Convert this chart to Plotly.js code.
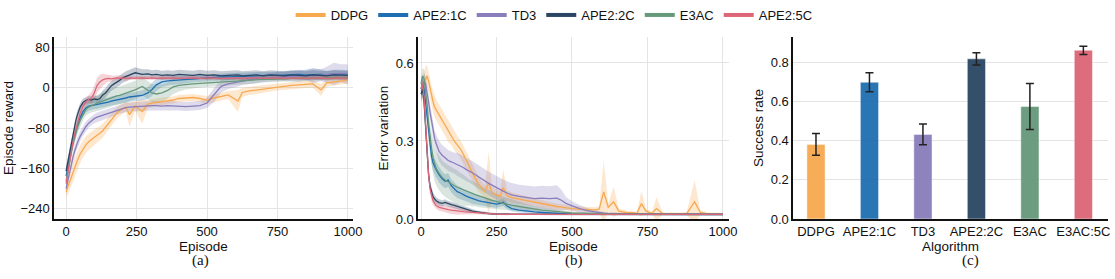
<!DOCTYPE html>
<html><head><meta charset="utf-8">
<script src="https://cdn.plot.ly/plotly-3.0.1.min.js"></script>
<style>html,body{margin:0;padding:0;background:#fff;}#chart{width:1115px;height:279px;}</style>
</head><body><div id="chart"></div>
<script>
// ---------- series / colours ----------
const SERIES = ['DDPG','APE2:1C','TD3','APE2:2C','E3AC','APE2:5C'];
const COLORS = ['#F7A950','#1F6EB1','#8A7DBB','#2A4663','#66987A','#DC6677'];
const FILLS  = ['rgba(247,169,80,0.28)','rgba(31,110,177,0.25)','rgba(138,125,187,0.28)','rgba(42,70,99,0.28)','rgba(102,152,122,0.25)','rgba(220,102,119,0.28)'];

// ---------- panel (a): episode reward ----------
const EP_A = [0,5,10,15,20,25,30,35,40,50, 60,70,80,90,100,110,120,130,140,150, 160,170,180,190,200,212,225,245,270,290, 305,320,340,360,380,400,425,450,475,500, 525,550,575,610,625,650,675,700,725,750, 775,800,825,850,875,905,925,950,975,1000];

const REW_DDPG = [-206,-198,-189,-181,-174,-166,-159,-151,-144,-131, -121,-113,-107,-102,-98,-94,-90,-85,-78,-71, -63,-56,-50,-45,-41,-38,-53,-36,-47,-32, -30,-29,-27,-25,-24,-21,-20,-19,-21,-24, -20,-17,-14,-26,-9,-6,-4,-2,0,2, 3,5,6,7,8,-4,10,12,13,15];
const REW_DDPG_SD = [14,16,18,20,20,20,20,19,18,18, 17,17,16,16,15,15,14,14,13,13, 12,12,11,11,10,10,24,9,24,8, 8,8,8,7,7,7,7,7,7,8, 8,8,8,22,9,8,8,8,7,7, 7,7,7,7,7,12,7,7,6,6];

const REW_APE1 = [-175,-160,-145,-130,-116,-104,-94,-85,-76,-59, -47,-40,-36,-35,-33,-33,-31,-30,-29,-28, -26,-25,-24,-23,-22,-20,-18,-17,-15,-10, -3,6,12,14,15,16,17,18,19,20, 21,22,22,23,23,24,24,25,25,25, 26,26,27,26,27,27,26,27,28,27];
const REW_APE1_SD = [12,12,12,12,12,12,12,11,11,11, 10,10,9,9,9,9,9,9,9,9, 9,9,9,9,9,9,9,9,10,12, 13,12,10,9,8,8,8,7,7,7, 7,7,7,7,7,7,7,7,7,7, 7,8,8,10,12,10,8,9,8,8];

const REW_TD3 = [-200,-186,-172,-159,-147,-136,-126,-117,-109,-96, -85,-77,-70,-65,-61,-58,-56,-54,-52,-50, -48,-46,-44,-42,-40,-39,-38,-37,-37,-36, -35,-35,-36,-35,-36,-36,-37,-36,-35,-30, -14,3,8,12,14,16,18,19,21,22, 23,23,24,25,24,25,26,28,29,27];
const REW_TD3_SD = [10,10,10,10,10,10,10,10,10,10, 10,10,9,9,9,9,9,9,9,9, 9,9,9,9,9,9,9,9,9,9, 9,9,9,9,9,9,9,9,9,10, 14,12,10,9,8,8,8,8,8,9, 9,10,12,10,14,12,16,22,18,20];

const REW_APE2 = [-165,-150,-135,-118,-102,-88,-76,-64,-54,-38, -29,-25,-23,-24,-22,-23,-21,-14,-10,-2, 4,8,11,15,20,23,26,30,27,28, 26,27,25,26,25,27,26,25,27,25, 26,24,25,26,24,25,26,24,26,25, 24,26,25,24,26,25,24,26,25,25];
const REW_APE2_SD = [10,10,10,10,10,10,9,9,9,8, 8,7,7,7,7,7,8,9,10,10, 10,10,10,10,10,10,10,11,10,9, 9,9,9,9,9,9,9,9,9,9, 9,9,9,9,9,9,9,9,9,9, 9,9,9,9,9,9,9,9,9,9];

const REW_E3AC = [-185,-168,-152,-137,-123,-110,-99,-89,-79,-64, -52,-43,-38,-35,-32,-30,-28,-26,-23,-21, -19,-17,-16,-15,-13,-12,-9,-4,3,-5, -10,-12,-10,-5,2,5,7,8,9,10, 11,11,12,13,14,15,16,17,17,18, 18,19,19,19,20,20,20,21,21,21];
const REW_E3AC_SD = [12,12,12,12,12,12,12,12,12,12, 12,12,13,14,15,16,17,18,18,18, 18,18,18,18,18,18,18,18,18,18, 18,18,17,16,14,12,10,9,8,8, 7,7,7,7,7,7,7,6,6,6, 6,6,6,6,6,6,6,6,6,6];

const REW_APE5 = [-190,-172,-155,-138,-120,-105,-92,-80,-68,-50, -36,-28,-23,-20,-10,5,12,16,18,19, 18,19,20,19,20,19,20,19,20,19, 20,19,20,19,20,19,20,20,19,20, 20,19,20,20,19,20,20,19,20,20, 19,20,20,19,20,20,19,20,20,19];
const REW_APE5_SD = [10,10,10,10,10,9,9,9,8,8, 8,8,9,12,15,15,14,12,9,7, 6,5,5,5,5,5,4,4,4,4, 4,4,4,4,4,4,4,4,4,4, 4,4,4,4,4,4,4,4,4,4, 4,4,4,4,4,4,4,4,4,4];

// ---------- panel (b): error variation ----------
const EP_B = [0,5,10,15,20,25,30,35,40,45, 50,60,70,80,90,100,110,120,130,140, 150,160,170,180,190,200,212,224,235,250, 262,272,285,300,325,350,375,400,425,450, 465,480,500,525,550,575,590,605,620,638, 655,680,700,715,730,745,765,780,800,830, 860,880,906,925,950,975,1000];

const ERR_DDPG = [0.49,0.50,0.52,0.54,0.55,0.53,0.50,0.47,0.45,0.43, 0.42,0.40,0.38,0.36,0.335,0.32,0.30,0.285,0.27,0.25, 0.225,0.20,0.18,0.155,0.135,0.12,0.105,0.14,0.10,0.092, 0.088,0.12,0.09,0.082,0.076,0.07,0.064,0.058,0.052,0.048, 0.046,0.043,0.04,0.038,0.037,0.035,0.038,0.104,0.045,0.066, 0.03,0.025,0.024,0.022,0.059,0.03,0.022,0.04,0.021,0.02, 0.02,0.021,0.066,0.025,0.02,0.02,0.02];
const ERR_DDPG_SD = [0.03,0.04,0.04,0.05,0.04,0.04,0.04,0.04,0.04,0.04, 0.04,0.04,0.04,0.04,0.04,0.035,0.035,0.035,0.035,0.035, 0.035,0.035,0.03,0.03,0.03,0.025,0.025,0.12,0.025,0.02, 0.02,0.07,0.02,0.02,0.018,0.016,0.015,0.014,0.013,0.012, 0.012,0.011,0.01,0.01,0.01,0.01,0.012,0.12,0.015,0.058, 0.01,0.008,0.007,0.006,0.048,0.01,0.006,0.045,0.005,0.005, 0.005,0.006,0.083,0.01,0.005,0.004,0.004];

const ERR_APE1 = [0.50,0.52,0.50,0.45,0.39,0.33,0.28,0.24,0.215,0.20, 0.19,0.17,0.155,0.145,0.15,0.128,0.115,0.105,0.10,0.093, 0.088,0.083,0.078,0.075,0.071,0.068,0.065,0.062,0.06,0.057, 0.06,0.064,0.05,0.04,0.034,0.03,0.027,0.025,0.023,0.022, 0.021,0.02,0.019,0.019,0.019,0.019,0.019,0.019,0.019,0.019, 0.019,0.019,0.018,0.018,0.018,0.018,0.018,0.018,0.018,0.018, 0.018,0.018,0.018,0.018,0.018,0.018,0.018];
const ERR_APE1_SD = [0.03,0.03,0.03,0.03,0.03,0.03,0.03,0.03,0.03,0.03, 0.03,0.03,0.028,0.027,0.027,0.025,0.025,0.024,0.023,0.022, 0.021,0.02,0.02,0.019,0.018,0.017,0.016,0.015,0.015,0.014, 0.014,0.014,0.012,0.01,0.009,0.008,0.007,0.006,0.006,0.005, 0.005,0.005,0.005,0.005,0.004,0.004,0.004,0.004,0.004,0.004, 0.004,0.004,0.004,0.004,0.004,0.004,0.004,0.004,0.004,0.004, 0.004,0.004,0.004,0.004,0.004,0.004,0.004];

const ERR_TD3 = [0.50,0.52,0.53,0.52,0.49,0.45,0.41,0.37,0.34,0.31, 0.29,0.26,0.245,0.235,0.225,0.22,0.215,0.21,0.205,0.198, 0.19,0.185,0.178,0.17,0.162,0.155,0.145,0.137,0.13,0.12, 0.112,0.107,0.10,0.093,0.087,0.082,0.078,0.08,0.078,0.08, 0.072,0.06,0.05,0.04,0.032,0.027,0.024,0.022,0.021,0.02, 0.02,0.019,0.019,0.019,0.019,0.019,0.019,0.019,0.019,0.019, 0.019,0.019,0.019,0.019,0.019,0.019,0.019];
const ERR_TD3_SD = [0.03,0.03,0.03,0.03,0.03,0.03,0.03,0.03,0.03,0.03, 0.035,0.04,0.04,0.04,0.04,0.04,0.04,0.045,0.045,0.045, 0.045,0.045,0.045,0.045,0.045,0.045,0.045,0.045,0.045,0.045, 0.045,0.045,0.045,0.045,0.045,0.047,0.047,0.048,0.048,0.05, 0.04,0.025,0.018,0.014,0.01,0.008,0.007,0.006,0.005,0.005, 0.004,0.004,0.004,0.004,0.004,0.004,0.004,0.004,0.004,0.004, 0.004,0.004,0.004,0.004,0.004,0.004,0.004];

const ERR_APE2 = [0.48,0.50,0.45,0.35,0.25,0.17,0.125,0.10,0.085,0.077, 0.07,0.063,0.06,0.064,0.058,0.055,0.052,0.048,0.044,0.04, 0.036,0.033,0.03,0.028,0.026,0.024,0.022,0.021,0.02,0.019, 0.018,0.018,0.018,0.018,0.018,0.018,0.018,0.018,0.018,0.018, 0.018,0.018,0.017,0.017,0.017,0.017,0.017,0.017,0.017,0.017, 0.017,0.017,0.017,0.017,0.017,0.017,0.017,0.017,0.017,0.017, 0.017,0.017,0.017,0.017,0.017,0.017,0.017];
const ERR_APE2_SD = [0.03,0.03,0.03,0.03,0.03,0.025,0.02,0.018,0.016,0.015, 0.014,0.013,0.012,0.012,0.011,0.011,0.01,0.01,0.009,0.009, 0.008,0.008,0.007,0.007,0.006,0.006,0.005,0.005,0.005,0.004, 0.004,0.004,0.004,0.004,0.004,0.004,0.004,0.004,0.004,0.004, 0.004,0.004,0.004,0.004,0.004,0.004,0.004,0.004,0.004,0.004, 0.004,0.004,0.004,0.004,0.004,0.004,0.004,0.004,0.004,0.004, 0.004,0.004,0.004,0.004,0.004,0.004,0.004];

const ERR_E3AC = [0.52,0.55,0.54,0.50,0.44,0.37,0.31,0.27,0.235,0.21, 0.195,0.175,0.16,0.15,0.142,0.135,0.128,0.122,0.117,0.111, 0.106,0.102,0.098,0.094,0.09,0.085,0.08,0.076,0.072,0.067, 0.063,0.06,0.057,0.053,0.048,0.043,0.038,0.034,0.031,0.028, 0.026,0.025,0.023,0.022,0.021,0.02,0.02,0.02,0.019,0.019, 0.019,0.019,0.019,0.019,0.019,0.019,0.019,0.019,0.019,0.019, 0.019,0.019,0.019,0.019,0.019,0.019,0.019];
const ERR_E3AC_SD = [0.03,0.03,0.035,0.04,0.045,0.05,0.055,0.06,0.065,0.065, 0.065,0.065,0.065,0.065,0.065,0.065,0.065,0.065,0.06,0.06, 0.055,0.05,0.05,0.045,0.045,0.04,0.038,0.035,0.032,0.03, 0.028,0.026,0.024,0.022,0.018,0.015,0.012,0.01,0.009,0.008, 0.007,0.006,0.006,0.005,0.005,0.005,0.004,0.004,0.004,0.004, 0.004,0.004,0.004,0.004,0.004,0.004,0.004,0.004,0.004,0.004, 0.004,0.004,0.004,0.004,0.004,0.004,0.004];

const ERR_APE5 = [0.50,0.52,0.47,0.36,0.25,0.17,0.115,0.085,0.07,0.06, 0.052,0.045,0.041,0.038,0.036,0.034,0.032,0.03,0.029,0.028, 0.027,0.026,0.025,0.024,0.023,0.022,0.021,0.02,0.019,0.019, 0.018,0.018,0.018,0.018,0.018,0.018,0.018,0.018,0.018,0.018, 0.018,0.018,0.018,0.018,0.018,0.018,0.018,0.018,0.018,0.018, 0.018,0.018,0.018,0.018,0.018,0.018,0.018,0.018,0.018,0.018, 0.018,0.018,0.018,0.018,0.018,0.018,0.018];
const ERR_APE5_SD = [0.03,0.03,0.03,0.03,0.03,0.025,0.02,0.018,0.016,0.014, 0.013,0.013,0.013,0.013,0.014,0.015,0.015,0.014,0.012,0.01, 0.008,0.007,0.006,0.006,0.005,0.005,0.005,0.004,0.004,0.004, 0.003,0.003,0.003,0.003,0.003,0.003,0.003,0.003,0.003,0.003, 0.003,0.003,0.003,0.003,0.003,0.003,0.003,0.003,0.003,0.003, 0.003,0.003,0.003,0.003,0.003,0.003,0.003,0.003,0.003,0.003, 0.003,0.003,0.003,0.003,0.003,0.003,0.003];

// ---------- panel (c): success rate ----------
const ALGORITHMS = ['DDPG','APE2:1C','TD3','APE2:2C','E3AC','E3AC:5C'];
const SUCCESS = [0.382,0.700,0.433,0.820,0.576,0.864];
const SUCCESS_ERR = [0.056,0.049,0.053,0.031,0.118,0.021];

const X_TICKS = [0,250,500,750,1000];
const REW_TICKS = [-240,-160,-80,0,80];
const ERR_TICKS = [0,0.3,0.6];
const SR_TICKS = [0,0.2,0.4,0.6,0.8];

// ---------- build ----------
const REW = [[REW_DDPG,REW_DDPG_SD],[REW_APE1,REW_APE1_SD],[REW_TD3,REW_TD3_SD],[REW_APE2,REW_APE2_SD],[REW_E3AC,REW_E3AC_SD],[REW_APE5,REW_APE5_SD]];
const ERR = [[ERR_DDPG,ERR_DDPG_SD],[ERR_APE1,ERR_APE1_SD],[ERR_TD3,ERR_TD3_SD],[ERR_APE2,ERR_APE2_SD],[ERR_E3AC,ERR_E3AC_SD],[ERR_APE5,ERR_APE5_SD]];

function bandTrace(x, m, s, i, xa, ya){
  const up = m.map((v,k)=>v+s[k]);
  const lo = m.map((v,k)=>v-s[k]);
  return {type:'scatter', mode:'lines', x:x.concat(x.slice().reverse()), y:up.concat(lo.reverse()),
    fill:'toself', fillcolor:FILLS[i], line:{width:0, color:FILLS[i]}, hoverinfo:'skip',
    showlegend:false, xaxis:xa, yaxis:ya};
}
function lineTrace(x, m, i, xa, ya){
  return {type:'scatter', mode:'lines', x:x, y:m, line:{width:1.3, color:COLORS[i]},
    showlegend:false, xaxis:xa, yaxis:ya};
}
const traces = [];
REW.forEach((d,i)=>traces.push(bandTrace(EP_A,d[0],d[1],i,'x','y')));
REW.forEach((d,i)=>traces.push(lineTrace(EP_A,d[0],i,'x','y')));
ERR.forEach((d,i)=>traces.push(bandTrace(EP_B,d[0],d[1],i,'x2','y2')));
ERR.forEach((d,i)=>traces.push(lineTrace(EP_B,d[0],i,'x2','y2')));
traces.push({type:'bar', x:ALGORITHMS, y:SUCCESS, width:0.34, xaxis:'x3', yaxis:'y3', showlegend:false,
  marker:{color:COLORS, opacity:0.95, line:{color:'rgba(255,255,255,0.45)', width:1}},
  error_y:{type:'data', array:SUCCESS_ERR, visible:true, color:'#222', thickness:1.5, width:4}});
SERIES.forEach((n,i)=>traces.push({type:'scatter', mode:'lines', x:[null], y:[null], name:n,
  line:{width:4, color:COLORS[i]}, xaxis:'x', yaxis:'y', showlegend:true}));

const FONT = 'Liberation Sans, Arial, Helvetica, sans-serif';
const SERIF = 'Liberation Serif, Times New Roman, serif';
const common = {showgrid:true, gridcolor:'#e4e4e4', gridwidth:1, zeroline:false, showline:true,
  linecolor:'#111', linewidth:1.6, ticks:'', automargin:false, tickfont:{size:13, color:'#111'}};
const YDOM = [0.2151, 0.8674];
const LAB_Y = 1 - 260/279;
const layout = {
  width:1115, height:279, margin:{l:0,r:0,t:0,b:0},
  paper_bgcolor:'#fff', plot_bgcolor:'#fff',
  font:{family:FONT, size:13, color:'#111'},
  showlegend:true,
  legend:{orientation:'h', x:0.497, xanchor:'center', y:1.0, yanchor:'top', font:{size:13, color:'#111'}, bgcolor:'rgba(0,0,0,0)'},
  xaxis: Object.assign({}, common, {domain:[0.0484,0.3166], anchor:'y', range:[-43,1018], tickvals:X_TICKS, title:{text:'Episode', font:{size:13.5}, standoff:0}}),
  yaxis: Object.assign({}, common, {domain:YDOM, anchor:'x', range:[-260,101], tickvals:REW_TICKS, title:{text:'Episode reward', font:{size:13.5}, standoff:4}}),
  xaxis2: Object.assign({}, common, {domain:[0.3749,0.6538], anchor:'y2', range:[-10,1020], tickvals:X_TICKS, title:{text:'Episode', font:{size:13.5}, standoff:0}}),
  yaxis2: Object.assign({}, common, {domain:YDOM, anchor:'x2', range:[0,0.70], tickvals:ERR_TICKS, tickformat:'.1f', title:{text:'Error variation', font:{size:13.5}, standoff:4}}),
  xaxis3: Object.assign({}, common, {domain:[0.7112,0.9937], anchor:'y3', type:'category', range:[-0.43,5.46], showgrid:false, title:{text:'Algorithm', font:{size:13.5}, standoff:0}}),
  yaxis3: Object.assign({}, common, {domain:YDOM, anchor:'x3', range:[0,0.932], tickvals:SR_TICKS, tickformat:'.1f', title:{text:'Success rate', font:{size:13.5}, standoff:4}}),
  annotations:[
    {text:'(a)', x:200/1115, y:LAB_Y, xref:'paper', yref:'paper', xanchor:'center', yanchor:'middle', showarrow:false, font:{family:SERIF, size:15, color:'#111'}},
    {text:'(b)', x:574/1115, y:LAB_Y, xref:'paper', yref:'paper', xanchor:'center', yanchor:'middle', showarrow:false, font:{family:SERIF, size:15, color:'#111'}},
    {text:'(c)', x:970/1115, y:LAB_Y, xref:'paper', yref:'paper', xanchor:'center', yanchor:'middle', showarrow:false, font:{family:SERIF, size:15, color:'#111'}}
  ]
};
Plotly.newPlot('chart', traces, layout, {staticPlot:true, displayModeBar:false});
</script></body></html>
